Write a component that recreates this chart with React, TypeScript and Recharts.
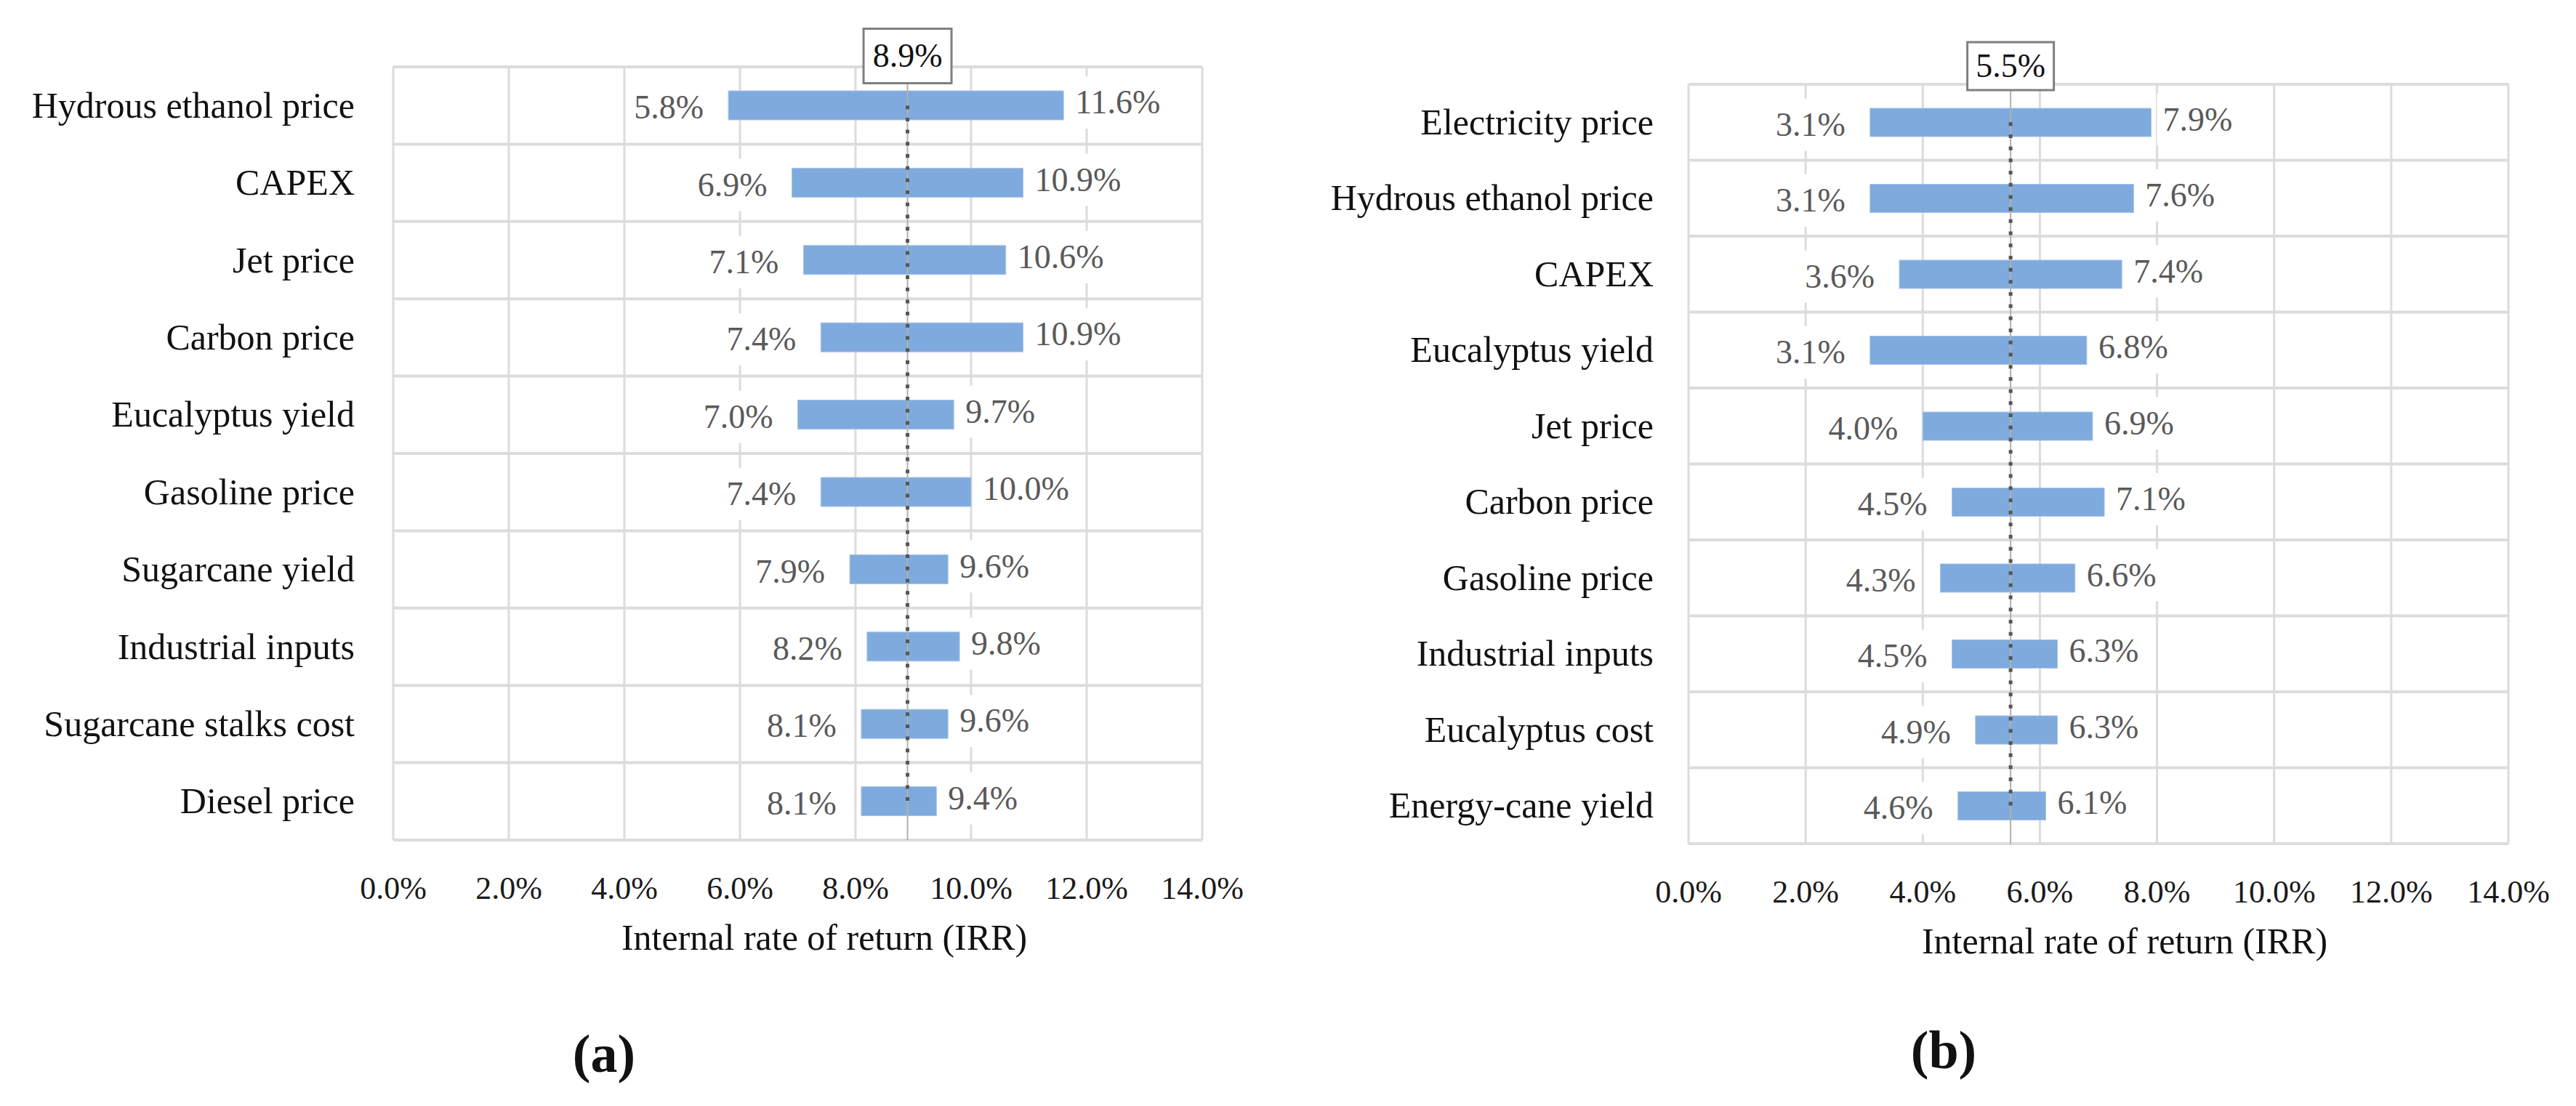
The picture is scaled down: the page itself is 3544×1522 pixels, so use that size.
import React from 'react';
import {
  ComposedChart,
  Bar,
  Line,
  XAxis,
  YAxis,
  CartesianGrid,
  ReferenceLine,
  LabelList,
} from 'recharts';

// (a) sugarcane + eucalyptus scenario
const categoriesA = [
  'Hydrous ethanol price',
  'CAPEX',
  'Jet price',
  'Carbon price',
  'Eucalyptus yield',
  'Gasoline price',
  'Sugarcane yield',
  'Industrial inputs',
  'Sugarcane stalks cost',
  'Diesel price',
];
const lowA = [5.8, 6.9, 7.1, 7.4, 7.0, 7.4, 7.9, 8.2, 8.1, 8.1];
const highA = [11.6, 10.9, 10.6, 10.9, 9.7, 10.0, 9.6, 9.8, 9.6, 9.4];
const baseA = 8.9;

// (b) energy-cane + eucalyptus scenario
const categoriesB = [
  'Electricity price',
  'Hydrous ethanol price',
  'CAPEX',
  'Eucalyptus yield',
  'Jet price',
  'Carbon price',
  'Gasoline price',
  'Industrial inputs',
  'Eucalyptus cost',
  'Energy-cane yield',
];
const lowB = [3.1, 3.1, 3.6, 3.1, 4.0, 4.5, 4.3, 4.5, 4.9, 4.6];
const highB = [7.9, 7.6, 7.4, 6.8, 6.9, 7.1, 6.6, 6.3, 6.3, 6.1];
const baseB = 5.5;

const xTicks = [0, 2, 4, 6, 8, 10, 12, 14];
const axisTitle = 'Internal rate of return (IRR)';

const FONT = '"Liberation Serif", "Times New Roman", serif';
const BAR_COLOR = '#7FAADD';
const GRID = '#DCDCDC';

const pct = (v: number) => `${v.toFixed(1)}%`;

// rough glyph widths (em) for the white label backgrounds
function textWidth(s: string, fs: number) {
  let w = 0;
  for (const c of s) w += c === '.' ? 0.25 : c === '%' ? 0.833 : 0.5;
  return w * fs;
}

interface PanelProps {
  categories: string[];
  low: number[];
  high: number[];
  base: number;
  left: number;
  margin: { top: number; right: number; bottom: number; left: number };
  yWidth: number;
  barSize: number;
  box: { w: number; h: number; dy: number };
  labelGap: number;
}

function TornadoPanel(p: PanelProps) {
  const data = p.categories.map((name, i) => ({
    name,
    low: p.low[i],
    high: p.high[i],
    range: [p.low[i], p.high[i]],
    base: p.base,
  }));
  const n = data.length;
  const VFS = 46;

  const lowLabel = (props: any) => {
    const { x, y, height, value } = props;
    const s = pct(value);
    const w = textWidth(s, VFS);
    const tx = x - 34;
    const cy = y + height / 2 + 3;
    return (
      <g>
        <rect x={tx - w - 8} y={cy - 36} width={w + 16} height={72} fill="#fff" />
        <text x={tx} y={cy} dy="0.33em" textAnchor="end" fontFamily={FONT} fontSize={VFS} fill="#595959">
          {s}
        </text>
      </g>
    );
  };

  const highLabel = (props: any) => {
    const { x, y, width, height, value } = props;
    const s = pct(value);
    const w = textWidth(s, VFS);
    const tx = x + width + 16;
    const cy = y + height / 2 - 4;
    return (
      <g>
        <rect x={tx - 8} y={cy - 36} width={w + 16} height={72} fill="#fff" />
        <text x={tx} y={cy} dy="0.33em" textAnchor="start" fontFamily={FONT} fontSize={VFS} fill="#595959">
          {s}
        </text>
      </g>
    );
  };

  const baseBox = (props: any) => {
    const vb = props.viewBox || {};
    const cx = vb.x;
    const cy = vb.y + p.box.dy;
    return (
      <g>
        <rect
          x={cx - p.box.w / 2}
          y={cy - p.box.h / 2}
          width={p.box.w}
          height={p.box.h}
          fill="#fff"
          stroke="#7F7F7F"
          strokeWidth={3}
        />
        <text x={cx} y={cy} dy="0.33em" textAnchor="middle" fontFamily={FONT} fontSize={46} fill="#111">
          {pct(p.base)}
        </text>
      </g>
    );
  };

  const yTick = (props: any) => (
    <text x={props.x - p.labelGap} y={props.y} dy="0.33em" textAnchor="end" fontFamily={FONT} fontSize={50} fill="#111">
      {props.payload.value}
    </text>
  );

  const xTick = (props: any) => (
    <text x={props.x} y={props.y + 66} dy="0.33em" textAnchor="middle" fontFamily={FONT} fontSize={44} fill="#1a1a1a">
      {pct(props.payload.value)}
    </text>
  );

  return (
    <div style={{ position: 'absolute', left: p.left, top: 0 }}>
      <ComposedChart width={1772} height={1522} data={data} layout="vertical" margin={p.margin}>
        <CartesianGrid horizontal={false} stroke={GRID} strokeWidth={3} />
        <CartesianGrid
          vertical={false}
          stroke={GRID}
          strokeWidth={4}
          horizontalCoordinatesGenerator={({ offset }: any) =>
            Array.from({ length: n + 1 }, (_, i) => offset.top + (i * offset.height) / n)
          }
        />
        <XAxis
          type="number"
          domain={[0, 14]}
          ticks={xTicks}
          axisLine={false}
          tickLine={false}
          tickSize={0}
          tickMargin={0}
          height={60}
          tick={xTick}
          interval={0}
        />
        <YAxis
          type="category"
          dataKey="name"
          width={p.yWidth}
          axisLine={false}
          tickLine={false}
          tickSize={0}
          tickMargin={0}
          tick={yTick}
          interval={0}
        />
        <Bar dataKey="range" barSize={p.barSize} fill={BAR_COLOR} stroke="#A8C3E8" strokeWidth={1} isAnimationActive={false}>
          <LabelList dataKey="low" content={lowLabel} />
          <LabelList dataKey="high" content={highLabel} />
        </Bar>
        <ReferenceLine x={p.base} stroke="#B0B0B0" strokeWidth={2} label={baseBox} />
        <Line
          dataKey="base"
          type="linear"
          stroke="#555555"
          strokeWidth={5}
          strokeDasharray="5 11.7"
          dot={false}
          activeDot={false}
          isAnimationActive={false}
        />
      </ComposedChart>
    </div>
  );
}

const textStyle: React.CSSProperties = {
  position: 'absolute',
  fontFamily: FONT,
  color: '#111',
  whiteSpace: 'nowrap',
  transform: 'translate(-50%, -50%)',
  lineHeight: 1,
};

export default function App() {
  return (
    <div style={{ position: 'absolute', left: 0, top: 0, width: 3544, height: 1522, background: '#fff', overflow: 'hidden' }}>
      <TornadoPanel
        categories={categoriesA}
        low={lowA}
        high={highA}
        base={baseA}
        left={0}
        margin={{ top: 92, right: 118, bottom: 306, left: 0 }}
        yWidth={541}
        barSize={40}
        box={{ w: 121, h: 75, dy: -15 }}
        labelGap={53}
      />
      <TornadoPanel
        categories={categoriesB}
        low={lowB}
        high={highB}
        base={baseB}
        left={1772}
        margin={{ top: 116, right: 93, bottom: 301, left: 0 }}
        yWidth={551}
        barSize={39}
        box={{ w: 119, h: 66, dy: -25 }}
        labelGap={48}
      />
      <div style={{ ...textStyle, left: 1134, top: 1290, fontSize: 50 }}>{axisTitle}</div>
      <div style={{ ...textStyle, left: 2923, top: 1295, fontSize: 50 }}>{axisTitle}</div>
      <div style={{ ...textStyle, left: 831, top: 1450, fontSize: 74, fontWeight: 'bold' }}>(a)</div>
      <div style={{ ...textStyle, left: 2674, top: 1445, fontSize: 74, fontWeight: 'bold' }}>(b)</div>
    </div>
  );
}
